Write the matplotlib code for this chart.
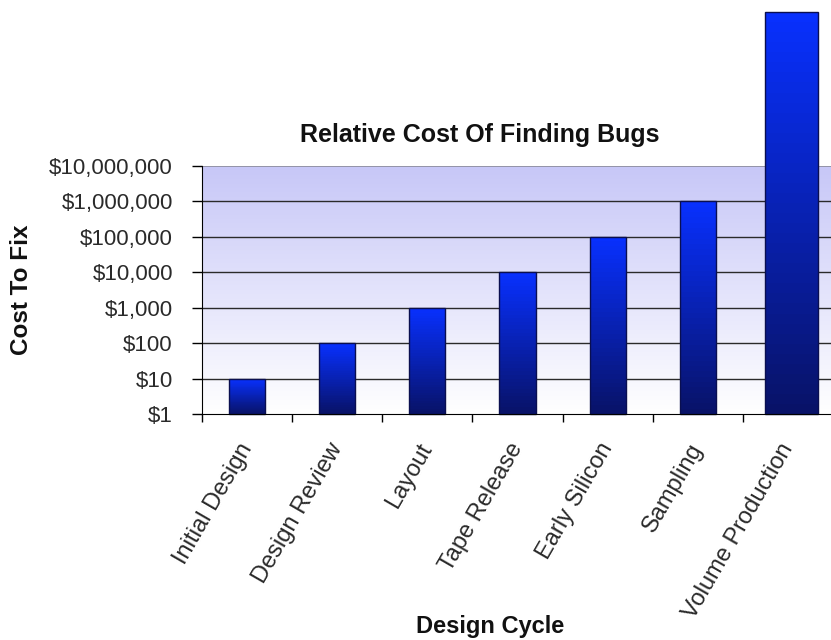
import numpy as np
import matplotlib
matplotlib.use("Agg")
import matplotlib.pyplot as plt
from matplotlib.ticker import FixedLocator, NullFormatter

# chart data
stages = ["Initial Design", "Design Review", "Layout", "Tape Release",
          "Early Silicon", "Sampling", "Volume Production"]
costs = [10, 100, 1000, 10000, 100000, 1000000, 2.2e11]
ytick_values = [1, 10, 100, 1000, 10000, 100000, 1000000, 10000000]
ytick_labels = ["$1", "$10", "$100", "$1,000", "$10,000", "$100,000",
                "$1,000,000", "$10,000,000"]

plt.rcParams['font.family'] = ['Liberation Sans', 'DejaVu Sans']

fig = plt.figure(figsize=(8.31, 6.40), dpi=100)
fig.patch.set_facecolor('white')
ax = fig.add_axes([202 / 831, 226 / 640, 631 / 831, 248 / 640])
ax.set_yscale('log')
ax.set_ylim(1, 1e7)
ax.set_xlim(-0.5, len(stages) - 0.5)

# plot area gradient: lavender at top fading to white
grad = np.linspace(0, 1, 256).reshape(-1, 1)
top_col = np.array([0.78, 0.78, 0.97])
bot_col = np.array([1.0, 1.0, 1.0])
img = bot_col + (top_col - bot_col) * grad[..., None]
ax.imshow(img, extent=[0, 1, 0, 1], transform=ax.transAxes, aspect='auto',
          origin='lower', zorder=0, interpolation='bilinear')

# gridlines
for v in ytick_values[1:-1]:
    ax.axhline(v, color='#2a2a2a', lw=1.0, zorder=1)
ax.axhline(ytick_values[-1], color='#8a8a9a', lw=1.2, zorder=1)

# bars with vertical banded gradient (bright blue top -> navy bottom)
bright = np.array([0.03, 0.19, 1.0])
dark = np.array([0.03, 0.07, 0.40])
widths = [0.4] * (len(stages) - 1) + [0.58]
offsets = [0.0] * (len(stages) - 1) + [0.04]
nbands = 40
for i, (c, w) in enumerate(zip(costs, widths)):
    x = i + offsets[i]
    edges = np.logspace(0, np.log10(c), nbands + 1)
    for k in range(nbands):
        f = (k + 0.5) / nbands
        col = dark + (bright - dark) * f
        ax.bar(x, edges[k + 1] - edges[k], bottom=edges[k], width=w,
               color=col, edgecolor='none', linewidth=0, zorder=3,
               clip_on=False)
    ax.bar(x, c - 1, bottom=1, width=w, facecolor='none',
           edgecolor='#0a0f50', linewidth=1.0, zorder=4, clip_on=False)

# y axis
ax.yaxis.set_major_locator(FixedLocator(ytick_values))
ax.set_yticklabels(ytick_labels, fontsize=16, color='#2a2a2a')
ax.yaxis.set_minor_locator(FixedLocator([]))
ax.tick_params(axis='y', length=7, width=1, color='black', pad=14)

# x axis: ticks at category boundaries, labels at centers
ax.xaxis.set_major_locator(FixedLocator(np.arange(-0.5, len(stages), 1.0)))
ax.xaxis.set_major_formatter(NullFormatter())
ax.xaxis.set_minor_locator(FixedLocator(np.arange(len(stages))))
ax.set_xticklabels(stages, minor=True, rotation=60, ha='right',
                   va='center', rotation_mode='anchor', fontsize=17,
                   color='#2a2a2a')
ax.tick_params(axis='x', which='major', length=6, width=1, color='black')
ax.tick_params(axis='x', which='minor', length=0, pad=22)

for side in ['top', 'right']:
    ax.spines[side].set_visible(False)
ax.spines['left'].set_color('black')
ax.spines['bottom'].set_color('black')
ax.spines['left'].set_zorder(5)
ax.spines['bottom'].set_zorder(5)

fig.text(480 / 831, 1 - 135 / 640, "Relative Cost Of Finding Bugs",
         ha='center', va='center', fontsize=18, fontweight='bold',
         color='#111111')
fig.text(22 / 831, 1 - 290 / 640, "Cost To Fix", rotation=90,
         ha='center', va='center', fontsize=17.5, fontweight='bold',
         color='#111111')
fig.text(490 / 831, 1 - 627 / 640, "Design Cycle", ha='center',
         va='center', fontsize=17, fontweight='bold', color='#111111')

fig.savefig("out.png", dpi=100)
